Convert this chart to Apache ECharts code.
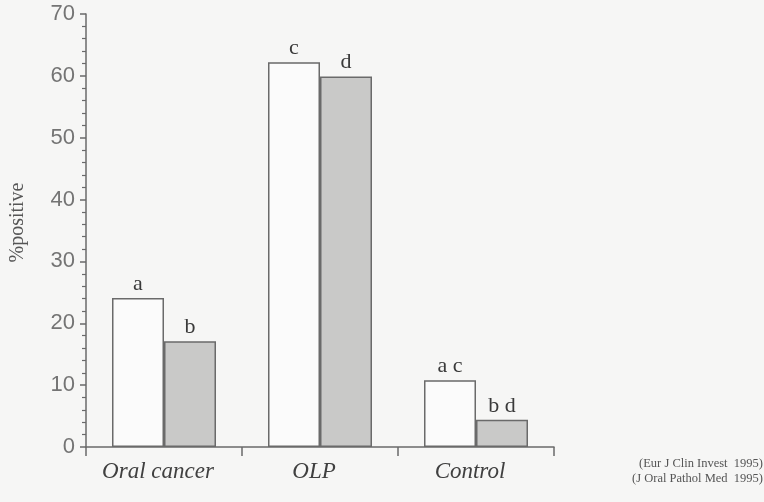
<!DOCTYPE html>
<html>
<head>
<meta charset="utf-8">
<script src="https://cdn.jsdelivr.net/npm/echarts@6/dist/echarts.min.js"></script>
<style>
  html, body { margin: 0; padding: 0; background: #f6f6f5; }
  #chart { width: 764px; height: 502px; }
</style>
</head>
<body>
<div id="chart"></div>
<script>
// Groups along the x axis
const categories = ['Oral cancer', 'OLP', 'Control'];
// Percent positive, first (open) and second (shaded) measurement per group
const openValues = [24.1, 62.2, 10.8];
const shadedValues = [17.1, 59.9, 4.4];
// Significance letters printed above each bar
const openLetters = ['a', 'c', 'a c'];
const shadedLetters = ['b', 'd', 'b d'];
// Y axis range and step
const yMin = 0, yMax = 70, yStep = 10;
// Source notes in the lower right corner
const sourceNotes = ['(Eur J Clin Invest  1995)', '(J Oral Pathol Med  1995)'];

const axisColor = '#6a6a6a';
const serif = '"Liberation Serif", "DejaVu Serif", serif';

const chart = echarts.init(document.getElementById('chart'), null, { renderer: 'canvas' });

const letterLabel = (letters) => ({
  show: true,
  position: 'top',
  distance: 3,
  formatter: (p) => letters[p.dataIndex],
  fontFamily: serif,
  fontSize: 22,
  color: '#3a3a3a'
});

chart.setOption({
  backgroundColor: '#f6f6f5',
  animation: false,
  grid: { left: 82, right: 210, top: 14, bottom: 55, containLabel: false },
  xAxis: {
    type: 'category',
    data: categories,
    axisLine: { lineStyle: { color: axisColor, width: 1.5 } },
    axisTick: { show: true, length: 9, lineStyle: { color: axisColor, width: 1.5 } },
    axisLabel: {
      margin: 13,
      fontFamily: serif,
      fontStyle: 'italic',
      fontSize: 23,
      color: '#404040',
      padding: [0, 12, 0, 0]
    }
  },
  yAxis: {
    type: 'value',
    min: yMin,
    max: yMax,
    interval: yStep,
    name: '%positive',
    nameLocation: 'middle',
    nameGap: 58,
    nameRotate: 90,
    nameTextStyle: { fontFamily: serif, fontSize: 20, color: '#555', padding: [0, 0, 0, 16] },
    splitLine: { show: false },
    axisLine: { show: true, lineStyle: { color: axisColor, width: 1.5 } },
    axisTick: { show: true, length: 6, lineStyle: { color: axisColor, width: 1.5 } },
    minorTick: { show: true, splitNumber: 5, length: 4, lineStyle: { color: axisColor, width: 1.2 } },
    axisLabel: {
      margin: 11,
      fontFamily: '"Liberation Sans", Arial, sans-serif',
      fontSize: 22,
      color: '#747474'
    }
  },
  series: [
    {
      type: 'bar',
      data: openValues,
      barWidth: 52,
      barGap: '0%',
      itemStyle: { color: '#fbfbfb', borderColor: '#6a6a6a', borderWidth: 1.5 },
      label: letterLabel(openLetters)
    },
    {
      type: 'bar',
      data: shadedValues,
      barWidth: 52,
      barGap: '0%',
      itemStyle: { color: '#c9c9c8', borderColor: '#6a6a6a', borderWidth: 1.5 },
      label: letterLabel(shadedLetters)
    }
  ],
  graphic: sourceNotes.map((t, i) => ({
    type: 'text',
    right: 1,
    top: 457 + i * 15,
    style: { text: t, fontFamily: serif, fontSize: 12.5, fill: '#555' }
  }))
});
</script>
</body>
</html>
